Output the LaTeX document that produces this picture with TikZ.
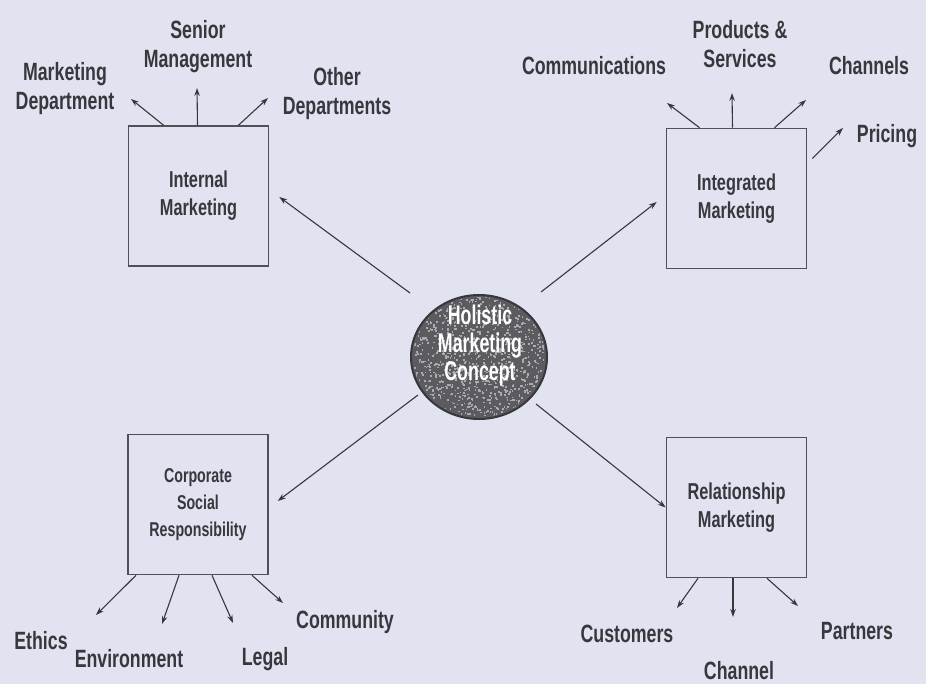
\documentclass[tikz,border=0pt]{standalone}
\usepackage{fontspec}
\setmainfont{Liberation Sans}[FakeStretch=0.71]
\newfontfamily\ellfont{Liberation Sans}[FakeStretch=0.66]
\usetikzlibrary{arrows.meta,shapes.geometric}
\definecolor{bg}{RGB}{226,227,241}
\definecolor{ink}{RGB}{55,55,60}
\definecolor{boxline}{RGB}{80,80,86}
\definecolor{ellfill}{RGB}{92,92,96}
\definecolor{speckc}{RGB}{170,170,176}
\tikzset{
 mbox/.style={draw=boxline, line width=1.6pt, minimum width=140pt, minimum height=140pt, inner sep=0pt, align=center, font=\fontsize{23}{28}\selectfont\bfseries, text=ink},
 lbl/.style={align=center, font=\fontsize{25}{29}\selectfont\bfseries, text=ink, inner sep=0pt},
 arr/.style={draw=ink, line width=1.1pt, -{Stealth[length=8pt,width=5.5pt]}},
}
\begin{document}
\begin{tikzpicture}[x=1pt,y=-1pt]
\fill[bg] (0,0) rectangle (926,684);
\useasboundingbox (0,0) rectangle (926,684);

% central ellipse
\node[ellipse, draw=ink, line width=2pt, fill=ellfill, minimum width=136pt, minimum height=124pt, inner sep=0pt] (hmc) at (479,357) {};
\begin{scope}
\clip (hmc.center) ellipse (66pt and 60pt);
\pgfmathsetseed{7}
\foreach \i in {1,...,1100}{
 \pgfmathsetmacro\px{479+68*rand}
 \pgfmathsetmacro\py{357+62*rand}
 \fill[speckc] (\px,\py) rectangle ++(1.7,1.7);
}
\end{scope}
\node[align=center, text=white, font=\ellfont\fontsize{27}{28}\selectfont\bfseries, inner sep=0pt] (hmctext) at (480,346) {Holistic\\Marketing\\Concept};

% boxes
\node[mbox] (im) at (198.5,196) {Internal\\Marketing};
\node[mbox] (ig) at (736.5,198.5) {Integrated\\Marketing};
\node[mbox, font=\fontsize{20}{27}\selectfont\bfseries] (csr) at (198,504.5) {Corporate\\Social\\Responsibility};
\node[mbox] (rm) at (736.5,507.5) {Relationship\\Marketing};

% main arrows
\coordinate (s1) at ([xshift=-69pt,yshift=64pt]hmc.center);
\coordinate (s2) at ([xshift=62pt,yshift=65pt]hmc.center);
\coordinate (s3) at ([xshift=-61pt,yshift=-38pt]hmc.center);
\coordinate (s4) at ([xshift=57pt,yshift=-47pt]hmc.center);
\draw[arr] (s1) -- ([xshift=10pt,yshift=-1pt]im.east);
\draw[arr] (s2) -- ([xshift=-9pt,yshift=-3.5pt]ig.west);
\draw[arr] (s3) -- ([xshift=9pt,yshift=3.5pt]csr.east);
\draw[arr] (s4) -- (rm.west);

% labels
\node[lbl] (md) at (65,89) {Marketing\\Department};
\node[lbl] (sm) at (198,47) {Senior\\Management};
\node[lbl] (od) at (337,94) {Other\\Departments};
\node[lbl] (comm) at (594,66) {Communications};
\node[lbl] (ps) at (740,44) {Products \&\\Services};
\node[lbl] (ch) at (869,66) {Channels};
\node[lbl] (pr) at (887,136) {Pricing};
\node[lbl] (eth) at (41,641) {Ethics};
\node[lbl] (env) at (129,659) {Environment};
\node[lbl] (leg) at (265,659) {Legal};
\node[lbl] (cmty) at (345,622) {Community};
\node[lbl] (cust) at (627,634) {Customers};
\node[lbl] (part) at (857,631) {Partners};
\node[lbl] (chan) at (739,671) {Channel};

% tips
\coordinate (t1) at (131,99);
\coordinate (t2) at (197,88);
\coordinate (t3) at (268,98);
\coordinate (t4) at (667,103);
\coordinate (t5) at (732,93);
\coordinate (t6) at (806,100);
\coordinate (t7) at (843,128);
\coordinate (t8) at (96,615);
\coordinate (t9) at (162,624);
\coordinate (t10) at (233,623);
\coordinate (t11) at (283,603);
\coordinate (t12) at (677,608);
\coordinate (t13) at (733,617);
\coordinate (t14) at (798,606);

% sub arrows
\draw[arr] ([xshift=-35pt]im.north) -- (t1);
\draw[arr] ([xshift=-1pt]im.north) -- (t2);
\draw[arr] ([xshift=40pt]im.north) -- (t3);
\draw[arr] ([xshift=-37pt]ig.north) -- (t4);
\draw[arr] ([xshift=-4pt]ig.north) -- (t5);
\draw[arr] ([xshift=38pt]ig.north) -- (t6);
\draw[arr] ([xshift=5pt,yshift=40pt]ig.east) -- (t7);
\draw[arr] ([xshift=-62pt]csr.south) -- (t8);
\draw[arr] ([xshift=-19pt]csr.south) -- (t9);
\draw[arr] ([xshift=14pt]csr.south) -- (t10);
\draw[arr] ([xshift=54pt]csr.south) -- (t11);
\draw[arr] ([xshift=-38.5pt]rm.south) -- (t12);
\draw[arr] ([xshift=-3.5pt]rm.south) -- (t13);
\draw[arr] ([xshift=30.5pt]rm.south) -- (t14);
\end{tikzpicture}
\end{document}
